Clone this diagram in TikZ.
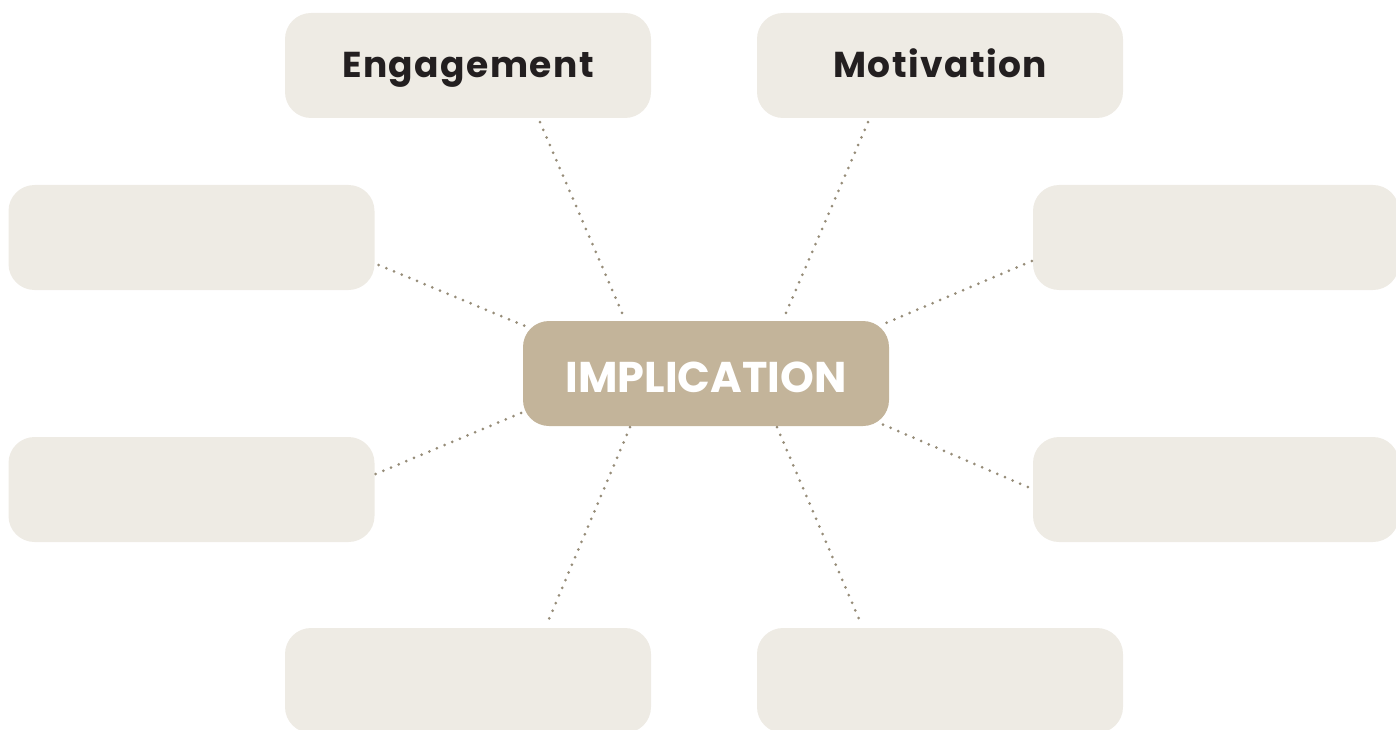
\documentclass[tikz,border=0pt]{standalone}
\usepackage{fontspec}
\setmainfont{Poppins}
\usetikzlibrary{calc}
\definecolor{boxfill}{RGB}{238,235,228}
\definecolor{hubfill}{RGB}{195,180,154}
\definecolor{dotcol}{RGB}{150,140,120}
\definecolor{txtdark}{RGB}{35,31,32}
\tikzset{
  card/.style={fill=boxfill, rounded corners=26pt, minimum width=366pt, minimum height=105pt, inner sep=0pt,
    font=\fontsize{36}{40}\selectfont\bfseries\addfontfeatures{LetterSpace=4}, text=txtdark, text height=25pt, text depth=0pt},
  hub/.style={fill=hubfill, rounded corners=26pt, minimum width=366pt, minimum height=105pt, inner sep=0pt,
    font=\fontsize{43}{48}\selectfont\bfseries, text=white, text height=37pt, text depth=0pt},
  link/.style={draw=dotcol, line width=3pt, line cap=round, dash pattern=on 0pt off 8.3pt}
}
\begin{document}
\begin{tikzpicture}[x=1pt,y=-1pt]
\useasboundingbox (0,0) rectangle (1396,730);
\node[hub]  (c)   at (706,373.5) {IMPLICATION};
\node[card] (eng) at (468,65.5) {Engagement};
\node[card] (mot) at (940,65.5) {Motivation};
\node[card] (lu)  at (191.5,237.5) {};
\node[card] (ru)  at (1216,237.5) {};
\node[card] (ll)  at (191.5,489.5) {};
\node[card] (rl)  at (1216,489.5) {};
\node[card] (bl)  at (468,680.5) {};
\node[card] (br)  at (940,680.5) {};
\draw[link] ($(eng.south)+(72,4)$) -- ($(c.north)+(-81,-1)$);
\draw[link] ($(mot.south)+(-72,4)$) -- ($(c.north)+(77,-1)$);
\draw[link] ($(lu.east)+(4,27.5)$) -- ($(c.north west)+(4,6)$);
\draw[link] ($(ll.east)+(1,-15.5)$) -- ($(c.south west)+(0,-14)$);
\draw[link] ($(ru.west)+(-1,23.5)$) -- ($(c.north east)+(-5,3)$);
\draw[link] ($(rl.west)+(-5,-2.5)$) -- ($(c.south east)+(-7,-2)$);
\draw[link] ($(c.south)+(-76,1)$) -- ($(bl.north)+(79,-4)$);
\draw[link] ($(c.south)+(71,1)$) -- ($(br.north)+(-79,-4)$);
\end{tikzpicture}
\end{document}
